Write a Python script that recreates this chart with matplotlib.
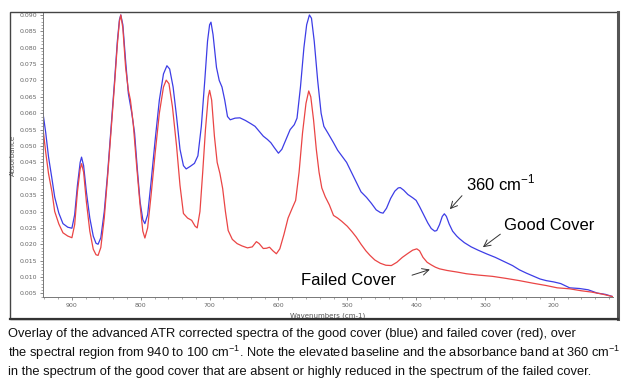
import matplotlib
matplotlib.use("Agg")
import matplotlib.pyplot as plt
from matplotlib.ticker import MultipleLocator, FormatStrFormatter
from matplotlib.patches import Rectangle

# ---- data ----
good_wn = [942, 938, 934, 929, 925, 919, 913, 906, 900, 896, 892, 888, 886, 883, 879, 874, 869, 865, 862,
           858, 853, 848, 843, 838, 834, 831, 829, 826, 822, 818, 813, 809, 805, 801, 797, 794, 790, 785,
           779, 773, 767, 762, 758, 753, 748, 743, 738, 734, 728, 722, 717, 712, 707, 703, 700, 698, 695,
           690, 686, 682, 678, 674, 670, 663, 656, 648, 640, 634, 628, 622, 616, 611, 606, 600, 595, 589,
           583, 577, 573, 568, 563, 559, 555, 552, 548, 543, 538, 534, 528, 520, 514, 508, 501, 494, 487,
           480, 472, 465, 458, 452, 448, 443, 437, 431, 426, 423, 418, 412, 405, 400, 395, 389, 383, 378,
           373, 370, 366, 362, 359, 356, 352, 347, 341, 337, 330, 320, 310, 298, 285, 272, 260, 250, 240,
           230, 220, 211, 200, 190, 177, 163, 150, 137, 125, 114]
good_abs = [0.0600, 0.0540, 0.0467, 0.0400, 0.0344, 0.0295, 0.0263, 0.0252, 0.0249, 0.0290, 0.0380, 0.0450,
            0.0466, 0.0440, 0.0360, 0.0280, 0.0225, 0.0203, 0.0200, 0.0220, 0.0300, 0.0420, 0.0560, 0.0700,
            0.0820, 0.0885, 0.0900, 0.0870, 0.0760, 0.0660, 0.0600, 0.0540, 0.0430, 0.0330, 0.0275, 0.0263,
            0.0290, 0.0390, 0.0520, 0.0640, 0.0720, 0.0745, 0.0735, 0.0680, 0.0590, 0.0490, 0.0440, 0.0430,
            0.0438, 0.0447, 0.0470, 0.0560, 0.0700, 0.0820, 0.0870, 0.0878, 0.0840, 0.0740, 0.0700, 0.0680,
            0.0640, 0.0590, 0.0580, 0.0585, 0.0586, 0.0578, 0.0568, 0.0560, 0.0545, 0.0530, 0.0520, 0.0510,
            0.0495, 0.0478, 0.0490, 0.0520, 0.0550, 0.0565, 0.0585, 0.0680, 0.0800, 0.0870, 0.0900, 0.0890,
            0.0820, 0.0700, 0.0600, 0.0560, 0.0539, 0.0510, 0.0487, 0.0470, 0.0450, 0.0420, 0.0390, 0.0360,
            0.0343, 0.0325, 0.0305, 0.0297, 0.0295, 0.0310, 0.0340, 0.0362, 0.0372, 0.0373, 0.0365, 0.0352,
            0.0342, 0.0334, 0.0315, 0.0290, 0.0265, 0.0248, 0.0240, 0.0242, 0.0260, 0.0285, 0.0293, 0.0285,
            0.0262, 0.0240, 0.0225, 0.0217, 0.0205, 0.0192, 0.0182, 0.0171, 0.0160, 0.0147, 0.0135, 0.0122,
            0.0112, 0.0103, 0.0094, 0.0089, 0.0085, 0.0080, 0.0067, 0.0065, 0.0061, 0.0051, 0.0047, 0.0040]

failed_wn = [942, 938, 934, 929, 925, 919, 913, 906, 900, 896, 892, 888, 886, 883, 879, 874, 869, 865, 862,
             858, 853, 848, 843, 838, 834, 831, 829, 826, 822, 818, 815, 811, 806, 801, 797, 794, 790, 785,
             779, 773, 767, 763, 759, 754, 748, 743, 738, 732, 726, 721, 718, 714, 710, 706, 702, 700, 697,
             693, 689, 685, 681, 677, 673, 667, 660, 653, 645, 638, 632, 628, 622, 617, 613, 608, 603, 598,
             592, 586, 580, 575, 570, 565, 560, 556, 553, 549, 545, 541, 537, 532, 526, 520, 514, 508, 500,
             493, 487, 480, 473, 467, 460, 452, 444, 436, 428, 420, 412, 405, 399, 395, 390, 384, 378, 372,
             366, 355, 340, 327, 310, 289, 270, 250, 230, 211, 195, 177, 160, 145, 130, 114]
failed_abs = [0.0553, 0.0480, 0.0416, 0.0360, 0.0300, 0.0262, 0.0235, 0.0225, 0.0220, 0.0260, 0.0360, 0.0430,
              0.0446, 0.0420, 0.0330, 0.0240, 0.0185, 0.0168, 0.0166, 0.0190, 0.0280, 0.0410, 0.0550, 0.0690,
              0.0810, 0.0880, 0.0900, 0.0860, 0.0740, 0.0670, 0.0640, 0.0570, 0.0440, 0.0320, 0.0240, 0.0219,
              0.0250, 0.0350, 0.0480, 0.0600, 0.0680, 0.0701, 0.0690, 0.0620, 0.0500, 0.0380, 0.0294, 0.0280,
              0.0273, 0.0255, 0.0250, 0.0300, 0.0420, 0.0550, 0.0650, 0.0670, 0.0640, 0.0530, 0.0450, 0.0416,
              0.0370, 0.0300, 0.0242, 0.0215, 0.0202, 0.0195, 0.0189, 0.0192, 0.0208, 0.0202, 0.0187, 0.0188,
              0.0191, 0.0180, 0.0171, 0.0186, 0.0230, 0.0280, 0.0310, 0.0334, 0.0420, 0.0540, 0.0630, 0.0668,
              0.0650, 0.0580, 0.0490, 0.0420, 0.0372, 0.0345, 0.0320, 0.0288, 0.0280, 0.0270, 0.0255, 0.0238,
              0.0222, 0.0200, 0.0180, 0.0166, 0.0152, 0.0142, 0.0136, 0.0135, 0.0145, 0.0160, 0.0172, 0.0182,
              0.0186, 0.0180, 0.0160, 0.0145, 0.0137, 0.0130, 0.0125, 0.0120, 0.0115, 0.0110, 0.0106, 0.0102,
              0.0096, 0.0089, 0.0081, 0.0074, 0.0067, 0.0064, 0.0058, 0.0054, 0.0048, 0.0040]

x_ticks = [900, 800, 700, 600, 500, 400, 300, 200]

caption_lines = [
    "Overlay of the advanced ATR corrected spectra of the good cover (blue) and failed cover (red), over",
    "the spectral region from 940 to 100 cm$^{\\mathregular{-1}}$. Note the elevated baseline and the absorbance band at 360 cm$^{\\mathregular{-1}}$",
    "in the spectrum of the good cover that are absent or highly reduced in the spectrum of the failed cover.",
]

W, H = 633, 390
fig = plt.figure(figsize=(W / 100, H / 100), dpi=100)
fig.patch.set_facecolor("white")

# outer frame
fig.add_artist(Rectangle((10 / W, 1 - 319 / H), 608 / W, 307 / H, transform=fig.transFigure,
                         fill=False, edgecolor="#444444", lw=1.0))
fig.add_artist(plt.Line2D([618 / W, 618 / W], [1 - 319 / H, 1 - 12 / H], transform=fig.transFigure,
                          color="#555555", lw=2.2))
fig.add_artist(plt.Line2D([10 / W, 618 / W], [1 - 319 / H, 1 - 319 / H], transform=fig.transFigure,
                          color="#333333", lw=1.6))

ax = fig.add_axes([43 / W, 1 - 297 / H, (613 - 43) / W, (297 - 13) / H])
ax.plot(good_wn, good_abs, color="#3d3de6", lw=0.9)
ax.plot(failed_wn, failed_abs, color="#ea4545", lw=0.9)

ax.set_xlim(942, 114)
ax.set_ylim(0.0039, 0.0906)
for s in ["top", "right"]:
    ax.spines[s].set_visible(False)
for s in ["left", "bottom"]:
    ax.spines[s].set_color("#777777")
    ax.spines[s].set_linewidth(0.7)

ax.set_xticks(x_ticks)
ax.xaxis.set_minor_locator(MultipleLocator(20))
ax.yaxis.set_minor_locator(MultipleLocator(0.001))
ax.set_yticks([v / 1000 for v in range(5, 91, 5)])
ax.yaxis.set_major_formatter(FormatStrFormatter("%.3f"))
ax.tick_params(axis="both", which="major", labelsize=4.5, labelcolor="#666666", color="#777777",
               length=2.5, width=0.6, pad=2)
ax.tick_params(axis="both", which="minor", color="#888888", length=1.2, width=0.5)
ax.set_ylabel("Absorbance", fontsize=5, color="#555555", labelpad=2)
ax.set_xlabel("Wavenumbers (cm-1)", fontsize=5, color="#555555", labelpad=3)

fam = ["Liberation Sans", "DejaVu Sans"]
arrow = dict(arrowstyle="->", color="#333333", lw=0.7, shrinkB=0)
ax.annotate("360 cm$^{\\mathregular{-1}}$", xy=(351, 0.0307), xytext=(328, 0.0386),
            textcoords="data", fontsize=12, family=fam, ha="left", va="center",
            arrowprops=dict(arrow, shrinkA=1, relpos=(0.0, 0.1)))
ax.annotate("Good Cover", xy=(303, 0.0191), xytext=(272, 0.0258),
            textcoords="data", fontsize=12, family=fam, ha="left", va="center",
            arrowprops=dict(arrow, shrinkA=1, relpos=(0.0, 0.1)))
ax.annotate("Failed Cover", xy=(380, 0.0123), xytext=(567, 0.0090),
            textcoords="data", fontsize=12, family=fam, ha="left", va="center",
            arrowprops=dict(arrow, shrinkA=10, relpos=(1.0, 0.5)))

cfam = ["Liberation Sans", "DejaVu Sans"]
for i, line in enumerate(caption_lines):
    fig.text(8 / W, 1 - (334 + 19 * i) / H, line, fontsize=9.3, family=cfam,
             ha="left", va="center", color="#111111")

fig.savefig("out.png", dpi=100)
